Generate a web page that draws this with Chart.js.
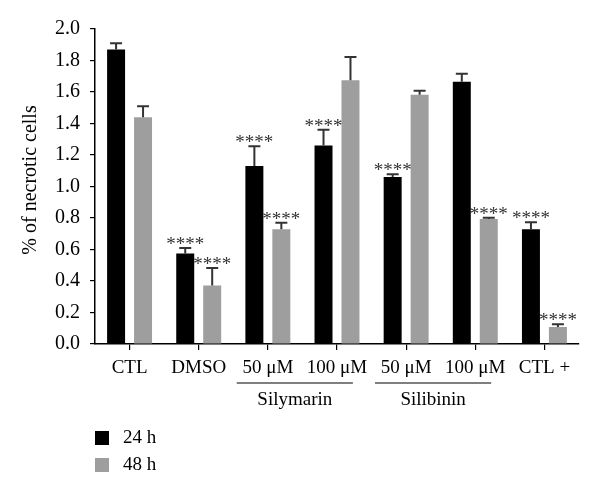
<!DOCTYPE html>
<html>
<head>
<meta charset="utf-8">
<script src="https://cdn.jsdelivr.net/npm/chart.js@4"></script>
<style>
  html, body { margin: 0; padding: 0; background: #fff; }
  #wrap { width: 600px; height: 493px; }
</style>
</head>
<body>
<div id="wrap"><canvas id="c" width="600" height="493"></canvas></div>
<script>
const categories = ["CTL", "DMSO", "50 μM", "100 μM", "50 μM", "100 μM", "CTL +"];
const seriesNames = ["24 h", "48 h"];
const values24 = [1.87, 0.575, 1.13, 1.26, 1.06, 1.665, 0.728];
const values48 = [1.44, 0.372, 0.728, 1.675, 1.583, 0.794, 0.108];
const err24 = [0.04, 0.035, 0.125, 0.10, 0.017, 0.051, 0.045];
const err48 = [0.07, 0.11, 0.042, 0.148, 0.025, 0.008, 0.018];
const sig24 = ["", "****", "****", "****", "****", "", "****"];
const sig48 = ["", "****", "****", "", "", "****", "****"];
const groupNames = ["Silymarin", "Silibinin"];
const groupStart = [2, 4];
const groupEnd = [3, 5];
const yTicks = [0, 0.2, 0.4, 0.6, 0.8, 1.0, 1.2, 1.4, 1.6, 1.8, 2.0];
const yTitle = "% of necrotic cells";

const FONT = "'Liberation Serif', 'DejaVu Serif', serif";
const colors = ["#000000", "#9e9e9e"];

const extras = {
  id: 'extras',
  afterDatasetsDraw(chart) {
    const ctx = chart.ctx;
    const y = chart.scales.y, x = chart.scales.x;
    const errs = [err24, err48];
    const sigs = [sig24, sig48];
    chart.data.datasets.forEach((ds, di) => {
      const meta = chart.getDatasetMeta(di);
      meta.data.forEach((bar, i) => {
        const v = ds.data[i];
        const top = y.getPixelForValue(v + errs[di][i]);
        const base = y.getPixelForValue(v);
        ctx.save();
        ctx.strokeStyle = '#333';
        ctx.lineWidth = 2;
        ctx.beginPath();
        ctx.moveTo(bar.x, base);
        ctx.lineTo(bar.x, top);
        ctx.moveTo(bar.x - 6, top);
        ctx.lineTo(bar.x + 6, top);
        ctx.stroke();
        if (sigs[di][i]) {
          ctx.fillStyle = '#333';
          ctx.font = "19px " + FONT;
          ctx.textAlign = 'center';
          ctx.textBaseline = 'alphabetic';
          ctx.fillText(sigs[di][i], bar.x, top + 2);
        }
        ctx.restore();
      });
    });
    ctx.save();
    const cw = x.getPixelForValue(1) - x.getPixelForValue(0);
    groupNames.forEach((g, k) => {
      const x0 = x.getPixelForValue(groupStart[k]) - 0.45 * cw;
      const x1 = x.getPixelForValue(groupEnd[k]) + 0.23 * cw;
      ctx.strokeStyle = '#000';
      ctx.lineWidth = 1.2;
      ctx.beginPath();
      ctx.moveTo(x0, 383);
      ctx.lineTo(x1, 383);
      ctx.stroke();
      ctx.fillStyle = '#000';
      ctx.font = "19px " + FONT;
      ctx.textAlign = 'center';
      ctx.textBaseline = 'middle';
      ctx.fillText(g, (x0 + x1) / 2, 400);
    });
    chart.data.datasets.forEach((ds, di) => {
      const cy = 438 + di * 27;
      ctx.fillStyle = ds.backgroundColor;
      ctx.fillRect(95, cy - 7, 14, 14);
      ctx.fillStyle = '#000';
      ctx.font = "19px " + FONT;
      ctx.textAlign = 'left';
      ctx.textBaseline = 'middle';
      ctx.fillText(ds.label, 123, cy);
    });
    ctx.translate(31, 180);
    ctx.rotate(-Math.PI / 2);
    ctx.fillStyle = '#000';
    ctx.font = "20px " + FONT;
    ctx.textAlign = 'center';
    ctx.textBaseline = 'middle';
    ctx.fillText(yTitle, 0, 0);
    ctx.restore();
  }
};

new Chart(document.getElementById('c'), {
  type: 'bar',
  data: {
    labels: categories,
    datasets: [
      { label: seriesNames[0], data: values24, backgroundColor: colors[0], borderWidth: 0 },
      { label: seriesNames[1], data: values48, backgroundColor: colors[1], borderWidth: 0 }
    ]
  },
  options: {
    responsive: false,
    animation: false,
    devicePixelRatio: 1,
    categoryPercentage: 0.78,
    barPercentage: 0.667,
    layout: { padding: { left: 0, right: 21, top: 29, bottom: 0 } },
    plugins: { legend: { display: false }, tooltip: { enabled: false } },
    scales: {
      x: {
        offset: true,
        grid: { display: true, offset: false, drawOnChartArea: false, drawTicks: true, tickLength: 6, color: '#000', lineWidth: 1.2 },
        border: { display: true, color: '#000', width: 1.5 },
        ticks: { color: '#000', font: { family: FONT, size: 19 }, padding: 7, maxRotation: 0, autoSkip: false },
        afterFit(s) { s.height = 149; }
      },
      y: {
        min: 0, max: 2,
        afterBuildTicks(s) { s.ticks = yTicks.map(v => ({ value: v })); },
        grid: { display: true, drawOnChartArea: false, drawTicks: true, tickLength: 5, color: '#000', lineWidth: 1.2 },
        border: { display: true, color: '#000', width: 1.5 },
        ticks: { color: '#000', font: { family: FONT, size: 20 }, padding: 10, callback: v => Number(v).toFixed(1) },
        afterFit(s) { s.width = 95; }
      }
    }
  },
  plugins: [extras]
});
</script>
</body>
</html>
